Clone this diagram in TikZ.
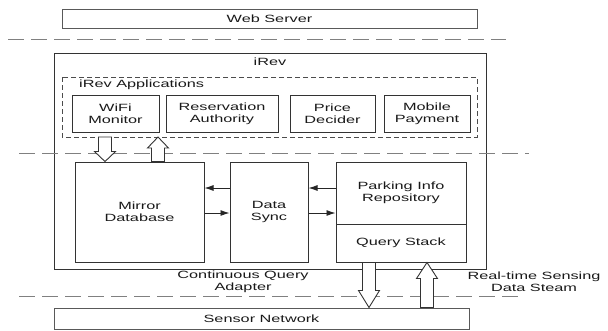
\documentclass[tikz,border=0pt]{standalone}
\usepackage{fontspec}
\setmainfont{Liberation Sans}[FakeStretch=1.55]
\usetikzlibrary{arrows.meta,calc}

\newcommand{\openarrow}[3]{%
  \draw[hollow] let \p1=(#1), \p2=(#2), \n1={sign(\y2-\y1)*#3} in
    (\x1-6.5pt,\y1) -- (\x1-6.5pt,\y2-\n1) -- (\x1-10.5pt,\y2-\n1) -- (\x1,\y2)
    -- (\x1+10.5pt,\y2-\n1) -- (\x1+6.5pt,\y2-\n1) -- (\x1+6.5pt,\y1) -- cycle;}

\begin{document}
\begin{tikzpicture}[x=1pt, y=-1pt,
    every node/.style={font=\fontsize{10.5}{12}\selectfont, text=black!90},
    box/.style={draw=black!80, line width=1pt, align=center, inner sep=0pt},
    layer/.style={box, draw=black!65},
    apps/.style={draw=black!70, line width=0.9pt, dash pattern=on 5pt off 3pt},
    divider/.style={draw=black!50, line width=0.9pt, dash pattern=on 16pt off 7pt},
    hollow/.style={draw=black!80, line width=0.9pt, fill=white, line join=miter},
    arrow/.style={-{Latex[length=9pt,width=6pt]}, draw=black!85, line width=0.9pt}
  ]
    \useasboundingbox (0,0) rectangle (608,330);
    \node[layer, minimum width=415pt, minimum height=19pt] (web) at (269.5,18.5) {Web Server};
    \node[box, minimum width=432pt, minimum height=216pt] (irev) at (270,161) {};
    \node[anchor=north, inner sep=0pt] (irevlabel) at ([yshift=-5pt]irev.north) {iRev};
    \path[apps] (62,77) rectangle (477,137);
    \coordinate (appsbottom) at (269.5,137);
    \node[anchor=west, inner sep=0pt] (appslabel) at (79,85) {iRev Applications};
    \node[box, minimum width=87pt, minimum height=37pt] (wifi) at (115.5,113.5) {WiFi\\Monitor};
    \node[box, minimum width=112pt, minimum height=37pt] (reserve) at (222,113.5) {Reservation\\Authority};
    \node[box, minimum width=85pt, minimum height=37pt] (price) at (332.5,113.5) {Price\\Decider};
    \node[box, minimum width=86pt, minimum height=37pt] (payment) at (427,113.5) {Mobile\\Payment};
    \node[box, minimum width=129pt, minimum height=100pt] (mirror) at (139.5,212) {Mirror\\Database};
    \node[box, minimum width=78pt, minimum height=100pt] (sync) at (269,212) {Data\\Sync};
    \node[box, minimum width=130pt, minimum height=62pt] (parking) at (401,193) {Parking Info\\Repository};
    \node[box, minimum width=130pt, minimum height=38pt] (query) at (401,243) {Query Stack};
    \node[layer, minimum width=415pt, minimum height=21pt] (sensor) at (261.5,318.5) {Sensor Network};
    \node[align=center, inner sep=0pt] (cqa) at (243,281.5) {Continuous Query\\Adapter};
    \node[align=center, inner sep=0pt] (rts) at (534,281.5) {Real-time Sensing\\Data Steam};
    \draw[divider] (8,39) -- (506,39);
    \draw[divider] (19,153) -- (529,153);
    \draw[divider] (19,296) -- (518,296);
    \coordinate (down1) at (105,0);
    \coordinate (up1) at (158,0);
    \coordinate (down2) at (369,0);
    \coordinate (up2) at (427,0);
    \openarrow{appsbottom -| down1}{mirror.north -| down1}{10}
    \openarrow{mirror.north -| up1}{appsbottom -| up1}{11}
    \openarrow{query.south -| down2}{sensor.north -| down2}{17}
    \openarrow{sensor.north -| up2}{query.south -| up2}{16}
    \draw[arrow] (sync.west |- 0,188) -- (mirror.east |- 0,188);
    \draw[arrow] (mirror.east |- 0,213) -- (sync.west |- 0,213);
    \draw[arrow] (parking.west |- 0,188) -- (sync.east |- 0,188);
    \draw[arrow] (sync.east |- 0,213) -- (parking.west |- 0,213);
  \end{tikzpicture}
\end{document}
